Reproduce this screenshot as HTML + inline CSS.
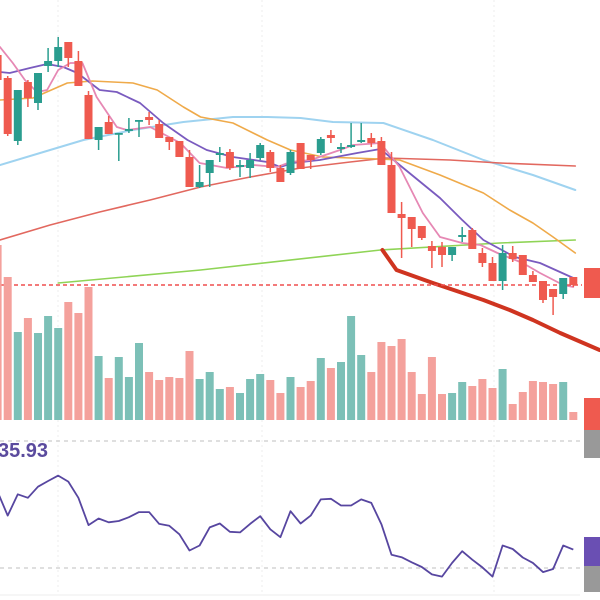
<!DOCTYPE html>
<html><head><meta charset="utf-8"><style>
html,body{margin:0;padding:0;background:#fff;width:600px;height:600px;overflow:hidden}
svg{display:block}
</style></head><body>
<svg id="chart" width="600" height="600" viewBox="0 0 600 600" xmlns="http://www.w3.org/2000/svg">
<g id="grid"></g>
<g id="mas"></g>
<g id="candles"></g>
<g id="vols"></g>
<g id="rsi"></g>
<text x="-2" y="457" font-family="Liberation Sans, sans-serif" font-size="20" font-weight="bold" fill="#5b4b9e">35.93</text>
<rect x="584" y="268" width="16" height="30" fill="#ef5a4f"/>
<rect x="584" y="398" width="16" height="32" fill="#ef5a4f"/>
<rect x="584" y="430" width="16" height="28" fill="#999"/>
<rect x="584" y="537" width="16" height="29" fill="#6a4fb3"/>
<rect x="584" y="566" width="16" height="26" fill="#999"/>
</svg>
<script>
const candleIdx = [-1,0,1,2,3,4,5,6,7,8,9,10,11,12,13,14,15,16,17,18,19,20,21,22,23,24,25,26,27,28,29,30,31,32,33,34,35,36,37,38,39,40,41,42,43,44,45,46,47,48,49,50,51,52,53,54,55,56];
const opens = [34.5,32.2,25.9,31.8,29.7,33.4,33.9,35.8,33.9,30.5,26.0,27.8,26.6,26.9,27.9,28.3,27.6,26.3,25.9,24.3,21.3,22.7,24.5,24.8,23.3,23.2,24.2,24.8,23.2,22.7,25.7,24.5,24.7,26.5,25.1,25.3,25.8,26.2,25.9,23.5,18.6,18.3,17.4,15.4,15.3,14.5,16.3,17.0,14.7,13.7,11.9,14.7,14.5,12.5,11.9,11.1,10.6,12.3];
const highs = [35.0,32.4,31.0,32.0,32.7,35.2,36.3,35.8,34.9,30.9,27.3,28.4,26.7,28.2,28.0,28.8,28.0,26.3,25.9,25.0,23.5,24.0,25.3,25.1,24.0,24.7,25.7,25.0,23.5,25.0,25.7,24.5,26.3,27.0,25.7,27.7,27.7,26.7,26.3,24.8,19.8,18.3,17.4,15.9,15.8,15.3,17.3,17.2,15.2,14.3,15.5,15.4,14.5,12.9,11.9,11.1,12.2,12.3];
const lows = [31.8,26.4,25.5,29.3,29.0,32.8,33.3,33.3,31.4,26.1,25.0,26.6,23.9,26.7,26.3,27.5,26.2,25.0,24.3,21.3,21.2,21.3,23.8,23.0,22.3,22.2,24.0,22.8,21.8,22.5,23.1,23.1,24.5,25.7,24.7,25.2,25.7,25.3,23.5,18.7,14.2,15.3,16.0,13.2,13.3,13.9,15.8,15.1,13.3,11.9,11.0,13.8,12.5,11.8,9.7,8.5,10.1,11.3];
const closes = [32.0,26.6,31.0,30.2,32.7,33.9,35.3,34.2,31.4,26.1,27.3,26.6,26.7,27.1,28.0,28.0,26.2,25.8,24.3,21.3,21.8,24.0,24.7,23.2,23.5,24.0,25.5,23.2,21.8,24.8,23.1,24.0,26.1,26.2,25.3,25.5,26.0,25.7,23.5,18.7,18.2,17.1,16.2,14.9,14.5,15.3,16.5,15.1,13.7,11.9,14.7,14.1,12.5,11.8,10.0,10.3,12.2,11.5];
const volumes = [175,143,88,102,87,104,92,118,107,133,64,42,63,43,77,48,40,43,42,69,41,48,31,33,27,41,46,40,27,43,33,39,62,52,58,104,65,48,78,74,81,48,26,63,26,27,38,34,41,32,51,16,28,39,38,36,38,8];
const rsiValues = [54.0,46.5,53.2,52.1,55.6,57.4,59.1,57.2,52.1,43.5,45.6,44.4,44.8,46.0,47.6,47.6,43.9,43.3,40.6,35.5,37.1,42.8,44.0,41.4,41.2,43.9,46.3,42.2,39.7,47.9,44.0,46.5,51.6,51.8,49.7,49.7,51.6,50.5,43.8,34.2,33.4,31.8,30.3,28.0,27.3,31.6,35.3,32.6,30.2,27.3,37.1,36.0,33.3,31.6,28.7,29.7,37.1,35.8];
const ma5Idx = [-0.76,0.5,1.7,2.9,3.9,5,6.2,7.4,8.8,10.8,11.8,14.1,17.1,19,21.7,24.3,26.7,28,30,32.9,34.2,36.9,38.8,41.1,42.8,45,46.8,48.5,51,52.7,55,56];
const ma5Val = [35.3,33.7,32.0,30.8,31.0,33.0,33.7,33.7,30.3,27.3,27.0,27.3,25.7,23.7,23.2,23.5,23.3,23.8,24.0,25.0,25.5,25.7,23.3,18.7,16.3,15.7,15.5,14.7,13.7,12.7,11.5,11.3];
const ma10Idx = [-0.76,0.2,2.2,3.9,5.5,6.9,9.1,10.8,13.1,15.4,17.8,19.7,22.3,25.7,27,28.2,30.9,34.6,36.9,38.8,42.8,45,47.1,50.2,52.7,56];
const ma10Val = [32.8,32.7,33.2,33.6,33.3,32.7,31.0,30.8,29.7,27.7,26.0,25.0,24.3,23.8,23.3,23.7,24.0,24.7,25.1,23.5,20.2,18.0,16.0,14.3,13.7,12.2];
const ma20Idx = [-0.76,2.5,5.9,8.4,12.4,14.8,17.4,19.1,22.3,25.7,28,31.2,36.9,38.8,42.8,47.1,49.7,52,54,56.2];
const ma20Val = [30.0,30.2,31.7,31.9,31.7,31.0,29.3,28.3,27.7,26.0,25.0,24.3,24.1,24.0,22.5,20.7,19.0,17.7,16.3,14.7];
const ma60Idx = [-0.76,4.2,7.5,12.4,17.4,22.3,25.7,29,32.2,37.2,42.1,47.1,52,56.2];
const ma60Val = [23.5,25.0,26.0,27.0,27.8,28.3,28.3,28.2,27.8,27.7,26.0,24.0,22.5,21.0];
const ma120Idx = [-0.76,4.2,9.1,14.1,19.1,24,29,33.9,37.4,43.8,48.7,56.2];
const ma120Val = [16.0,17.5,18.8,20.0,21.3,22.3,23.2,23.8,24.2,24.0,23.7,23.4];
const ma250Idx = [5,19.1,36.9,48.7,56.2];
const ma250Val = [11.7,13.0,15.0,15.7,16.0];
const trendIdx = [37.1,38.5,42.1,47.1,49.7,52,54.7,58.6];
const trendVal = [15.0,13.0,11.7,10.0,9.0,8.0,6.7,5.0];
const lastPriceLevel = 11.5;

const NS = 'http://www.w3.org/2000/svg';
function xS(i){ return 7.7 + 10.1*i; }
function yP(p){ return (40 - p)*10; }
function yV(v){ return 420 - v; }
function yR(r){ return 441 + (70 - r)/40*127; }
function mk(tag, attrs, parent){ const e=document.createElementNS(NS,tag); for(const k in attrs) e.setAttribute(k,attrs[k]); parent.appendChild(e); return e; }

const grid = document.getElementById('grid');
[58,262,494].forEach(x=>{
  const l = mk('line',{x1:x,y1:0,x2:x,y2:595,stroke:'#eee','stroke-dasharray':'2 3'},grid);
  
  
});
[30,70].forEach(r=>{
  const l = mk('line',{x1:0,y1:yR(r),x2:580,y2:yR(r),stroke:'#ccc','stroke-dasharray':'4 4','stroke-width':1.2},grid);
  
  
});
const bl = mk('line',{x1:0,y1:595,x2:580,y2:595,stroke:'#eee'},grid);



const mas = document.getElementById('mas');
function drawLine(idx, vals, color, w, name){
  const pts = idx.map((i,k)=>xS(i).toFixed(1)+','+yP(vals[k]).toFixed(1)).join(' ');
  const p = mk('polyline',{points:pts,fill:'none',stroke:color,'stroke-width':w,'stroke-linejoin':'round','stroke-linecap':'round'},mas);
  
  
}
drawLine(ma60Idx, ma60Val, '#9fd3f0', 2, 'ma60-line');
drawLine(ma120Idx, ma120Val, '#e2685f', 1.6, 'ma120-line');
drawLine(ma250Idx, ma250Val, '#8fd456', 1.6, 'ma250-line');
drawLine(ma20Idx, ma20Val, '#efaa4a', 1.6, 'ma20-line');
drawLine(ma10Idx, ma10Val, '#7a5bbf', 1.8, 'ma10-line');
drawLine(ma5Idx, ma5Val, '#e688b4', 1.8, 'ma5-line');
drawLine(trendIdx, trendVal, '#cf3420', 4, 'trend-line');
const dl = mk('line',{x1:0,y1:yP(lastPriceLevel),x2:582,y2:yP(lastPriceLevel),stroke:'#ef4f4f','stroke-width':1.5,'stroke-dasharray':'4 3'},mas);



const cg = document.getElementById('candles');
const vg = document.getElementById('vols');
candleIdx.forEach((i,k)=>{
  const up = closes[k] > opens[k];
  const col = up ? '#2a9d8f' : '#ef5a4f';
  const x = xS(i);
  const w = mk('line',{x1:x,y1:yP(highs[k]),x2:x,y2:yP(lows[k]),stroke:col,'stroke-width':1.5},cg);
  
  
  const top = Math.min(yP(opens[k]),yP(closes[k]));
  const h = Math.max(1.8, Math.abs(yP(opens[k])-yP(closes[k])));
  const b = mk('rect',{x:x-4,y:top,width:8,height:h,fill:col},cg);
  
  
  const vc = up ? '#7cc0b7' : '#f4a19c';
  const v = mk('rect',{x:x-4,y:yV(volumes[k]),width:8,height:volumes[k],fill:vc},vg);
  
  
});

const rg = document.getElementById('rsi');
const rpts = candleIdx.map((i,k)=>xS(i).toFixed(1)+','+yR(rsiValues[k]).toFixed(1)).join(' ');
const rl = mk('polyline',{points:rpts,fill:'none',stroke:'#5746a0','stroke-width':1.8,'stroke-linejoin':'round'},rg);


</script>
</body></html>
